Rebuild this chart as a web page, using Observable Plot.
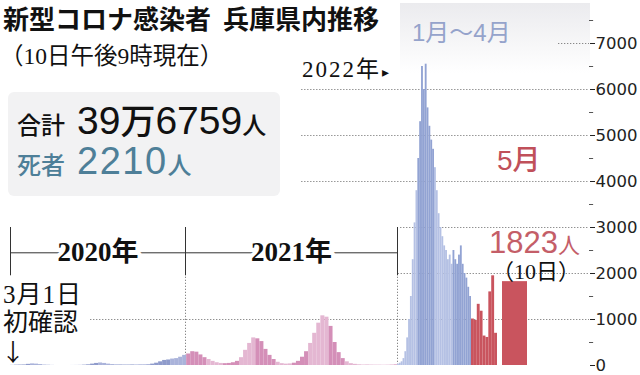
<!DOCTYPE html>
<html><head><meta charset="utf-8">
<script src="https://cdn.jsdelivr.net/npm/d3@7"></script>
<script src="https://cdn.jsdelivr.net/npm/@observablehq/plot@0.6"></script>
<style>
body{margin:0;background:#fff;}
#wrap{position:relative;width:640px;height:375px;overflow:hidden;}
</style></head><body>
<div id="wrap"></div>
<script>
// ---- data ----
// weekly daily-case levels from 2020-03-01
const cases2020Weekly = [3,8,10,12,25,35,30,20,10,5,2,0,0,0,0,1,2,4,8,15,30,45,55,45,30,20,15,12,10,10,12,12,15,15,20,30,50,80,110,120,140,150,180,220];
// weekly daily-case levels from 2021-01-03
const cases2021Weekly = [250,300,290,230,170,130,90,60,45,40,45,60,90,170,330,480,600,580,520,350,220,130,70,40,30,35,50,90,180,300,480,700,920,1080,1050,850,500,280,150,80,40,25,15,10,8,6,5,5,6,8,12,20];
// 3-day levels from 2022-01-01 to 2022-04-30
const cases2022Every3Days = [30,50,80,150,300,600,1000,1500,2300,3100,3800,4500,5300,6500,6000,6550,5600,5200,4900,4700,4300,3800,3300,3000,2800,2600,2500,2300,2400,2200,2500,2300,2200,2400,2600,2200,2000,1900,1700,1500];
// daily cases May 1..9 2022
const casesMayDaily = [1010,980,1330,1180,640,610,1600,1950,700];
const latestCases = 1823;
const latestDayLabel = "（10日）";
const totalCasesLabel = ["39", "万", "6759"];
const deathsLabel = "2210";
const yTicks = [0,1000,2000,3000,4000,5000,6000,7000];
const yMinorTicks = [500,1500,2500,3500,4500,5500,6500,7500];
const years = [
  {label: "2020年", start: new Date(Date.UTC(2020,2,1)), end: new Date(Date.UTC(2021,0,1))},
  {label: "2021年", start: new Date(Date.UTC(2021,0,1)), end: new Date(Date.UTC(2022,0,1))}
];

// ---- build tables ----
const DAY = 864e5;
const U = (y,m,d,h=0) => new Date(Date.UTC(y,m,d,h));
const pal = {
  2020: ["#8f9bcb", "#aab3da"],   // [even month, odd month]
  2021: ["#d48fb8", "#e4b7d2"],
  2022: ["#b5c1e4", "#92a3d3"]
};
const rows = [];
function addSeries(values, start, stepDays) {
  values.forEach((v, i) => {
    const x1 = new Date(start + i*stepDays*DAY);
    const x2 = new Date(start + (i+1)*stepDays*DAY);
    const yr = x1.getUTCFullYear(), m = x1.getUTCMonth();
    rows.push({x1, x2, y: v, fill: pal[yr][m % 2]});
  });
}
addSeries(cases2020Weekly, Date.UTC(2020,2,1), 7);
addSeries(cases2021Weekly, Date.UTC(2021,0,3), 7);
addSeries(cases2022Every3Days, Date.UTC(2022,0,1), 3);
const mayRows = casesMayDaily.map((v,i) => ({x1: U(2022,4,1+i), x2: U(2022,4,2+i), y: v}));
mayRows.push({x1: U(2022,4,10,5), x2: U(2022,4,11), y: latestCases});

const xAxisPos = U(2022,4,14);          // position of the right-hand value axis
const xTickEnd = U(2022,4,14,9);         // end of the minor tick marks
const grid = [
  {v:1000, from: U(2020,6,19)}, {v:2000, from: U(2022,0,2)}, {v:3000, from: U(2022,0,6)},
  {v:4000, from: U(2021,6,20)}, {v:5000, from: U(2021,6,20)}, {v:6000, from: U(2021,6,20)},
  {v:7000, from: U(2022,4,12,12)}
];
const boundaries = [U(2020,2,1), U(2021,0,1), U(2022,0,1)];

const chart = Plot.plot({
  width: 640, height: 375,
  marginLeft: 0, marginRight: 51, marginTop: 0, marginBottom: 0,
  style: {background: "transparent", color: "#222", fontSize: "16.5px", fontFamily: "'DejaVu Sans',sans-serif"},
  x: {type: "utc", axis: null,
      domain: [U(2020,2,1), U(2021,0,1), U(2022,0,1), U(2022,4,1), U(2022,4,10), U(2022,4,10,5), U(2022,4,11), xAxisPos, U(2022,4,15)],
      range: [10, 185, 397, 471, 497, 502, 527, 589, 600]},
  y: {domain: [0, 7000], range: [365, 43], axis: "right", ticks: yTicks, tickSize: 5, tickPadding: 1,
      tickFormat: d => String(d), label: null},
  color: {type: "identity"},
  marks: [
    Plot.ruleY(grid, {y: "v", x1: "from", x2: () => xAxisPos, stroke: "#888", strokeDasharray: "1.3,1.7", strokeWidth: 1}),
    Plot.ruleX(boundaries.slice(1), {y1: 0, y2: 1950, stroke: "#888", strokeDasharray: "1.3,1.7", strokeWidth: 1}),
    Plot.rectY(rows, {x1: "x1", x2: "x2", y: "y", fill: "fill"}),
    Plot.rectY(mayRows, {x1: "x1", x2: "x2", y: "y", fill: "#c9545e"}),
    Plot.ruleY([2450], {x1: () => boundaries[0], x2: () => boundaries[2], stroke: "#333", strokeWidth: 1}),
    Plot.ruleX(boundaries, {y1: 1950, y2: 3000, stroke: "#333", strokeWidth: 1}),
    Plot.text(years, {x: d => new Date((+d.start + +d.end)/2), y: 2450, text: "label",
      fill: "#111", stroke: "white", strokeWidth: 8, fontSize: 27, fontWeight: 600,
      fontFamily: "'Liberation Serif','Noto Sans CJK JP',serif"}),
    Plot.ruleY(yMinorTicks, {x1: () => xAxisPos, x2: () => xTickEnd, stroke: "#555", strokeWidth: 1})
  ]
});
document.getElementById("wrap").appendChild(chart);

// ---- annotations ----
const svg = d3.select(chart);
const defs = svg.insert("defs", ":first-child");
const g = defs.append("linearGradient").attr("id","panel").attr("x1",0).attr("y1",0).attr("x2",0).attr("y2",1);
g.append("stop").attr("offset","0%").attr("stop-color","#ebebee");
g.append("stop").attr("offset","100%").attr("stop-color","#ffffff");
svg.insert("rect", "defs + *").attr("x",400).attr("y",3).attr("width",190).attr("height",70).attr("fill","url(#panel)");
svg.insert("rect", "defs + *").attr("x",8).attr("y",92).attr("width",272).attr("height",104).attr("rx",6).attr("fill","#f2f2f3");

const JP = "'Noto Sans CJK JP',sans-serif";
const LS = "'Liberation Sans','Noto Sans CJK JP',sans-serif";
const SERIF = "'Liberation Serif','Noto Sans CJK JP',serif";
function addText(x, y, parts) {
  const t = svg.append("text").attr("x", x).attr("y", y).attr("text-anchor", "start");
  for (const p of parts) {
    const s = t.append("tspan").text(p.t).attr("font-size", p.size).attr("font-family", p.family || JP)
      .attr("font-weight", p.weight || 400).attr("fill", p.fill || "#111");
    if (p.dx) s.attr("dx", p.dx);
    if (p.ls) s.attr("letter-spacing", p.ls);
  }
}
addText(3, 29, [{t: "新型コロナ感染者", size: 26, weight: 700}, {t: "兵庫県内推移", size: 26, weight: 700, dx: 12}]);
addText(0, 64, [{t: "（10日午後9時現在）", size: 23.5, family: SERIF}]);
addText(17, 134, [{t: "合計", size: 24, weight: 500}, {t: totalCasesLabel[0], size: 39, family: LS, dx: 12},
  {t: totalCasesLabel[1], size: 35, weight: 500}, {t: totalCasesLabel[2], size: 39, family: LS}, {t: "人", size: 24, weight: 500}]);
addText(17, 174, [{t: "死者", size: 24, weight: 500, fill: "#4e7f98"}, {t: deathsLabel, size: 38, family: LS, dx: 12, ls: 1.5, fill: "#4e7f98"},
  {t: "人", size: 24, weight: 500, fill: "#4e7f98"}]);
addText(412, 41, [{t: "1月～4月", size: 24, family: LS, fill: "#95a3cb"}]);
addText(302, 77, [{t: "2022年", size: 23, family: SERIF, ls: 2}, {t: "▸", size: 14, dx: 1}]);
addText(497, 170, [{t: "5月", size: 28, family: LS, weight: 500, fill: "#c0505a"}]);
addText(489, 253, [{t: String(latestCases), size: 31, family: LS, fill: "#c45e68"}, {t: "人", size: 22, fill: "#c45e68"}]);
addText(492, 279, [{t: latestDayLabel, size: 22, family: SERIF}]);
addText(3, 303, [{t: "3月1日", size: 25, family: SERIF, ls: 1}]);
addText(3, 331, [{t: "初確認", size: 25}]);
addText(1, 361, [{t: "↓", size: 24}]);
</script>
</body></html>
